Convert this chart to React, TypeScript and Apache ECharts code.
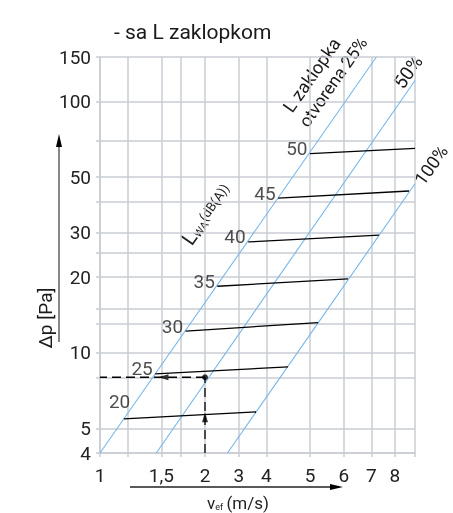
import React, { useEffect, useRef } from "react";
import * as echarts from "echarts";

const xGridValues = [1, 1.2, 1.5, 1.7, 2, 2.5, 3, 4, 5, 6, 7, 8];
const xLabelValues = [1, 1.5, 2, 2.5, 3, 4, 5, 6, 7];
const xLabelTexts = ["1", "1,5", "2", "3", "4", "5", "6", "7", "8"];
const yGridValues = [4, 5, 8, 10, 13, 15, 20, 25, 30, 40, 50, 70, 100, 150];
const yLabelValues = [4, 5, 10, 20, 30, 50, 100, 150];

const damperNames = ["25%", "50%", "100%"];
const damper25 = [[1, 4], [6.2, 150]];
const damper50 = [[1.45, 4], [8, 121]];
const damper100 = [[2.32, 4], [8, 47]];

const soundLevels = [20, 25, 30, 35, 40, 45, 50];
const soundStart = [[1.17, 5.47], [1.44, 8.25], [1.76, 12.2], [2.17, 18.4], [2.66, 27.6], [3.24, 41.2], [4.0, 62]];
const soundEnd = [[2.8, 5.83], [3.46, 8.8], [4.22, 13.2], [5.14, 19.7], [6.31, 29.4], [7.69, 44], [8, 65]];

const examplePoint = [2, 8];
const exampleVertical = [[2, 4], [2, 8]];
const exampleHorizontal = [[2, 8], [1, 8]];
const arrowUp = [2, 5.55];
const arrowLeft = [1.52, 8];

const FONT = "Roboto, 'Liberation Sans', sans-serif";
const TXT = "#222";
const GRID = "#c9ccd3";
const BLUE = "#78b7ea";
const ROT = (55 * Math.PI) / 180;

export default function App() {
  const ref = useRef<HTMLDivElement>(null);
  useEffect(() => {
    const chart = echarts.init(ref.current!, null, { renderer: "svg" });
    const damperData = [damper25, damper50, damper100];
    const series: any[] = [];
    damperData.forEach((d, i) => {
      series.push({
        type: "line", name: damperNames[i], data: d, symbol: "none", silent: true,
        lineStyle: { color: BLUE, width: 1.1 }, z: 3,
      });
    });
    soundLevels.forEach((lv, i) => {
      series.push({
        type: "line", name: "L" + lv, data: [soundStart[i], soundEnd[i]], symbol: "none", silent: true,
        lineStyle: { color: "#000", width: 1.3 }, z: 4,
      });
    });
    series.push({
      type: "scatter", data: soundStart.map((p, i) => ({
        value: p,
        label: i === 0 ? { offset: [9, -17] } : { offset: [0, -5] },
      })),
      symbolSize: 1, itemStyle: { color: "transparent" }, silent: true, z: 5,
      label: {
        show: true, position: "left", distance: 2,
        formatter: (p: any) => String(soundLevels[p.dataIndex]),
        fontSize: 19, color: TXT, fontFamily: FONT,
      },
    });
    series.push({
      type: "line", data: exampleVertical, symbol: "none", silent: true,
      lineStyle: { color: "#000", width: 1.3, type: [9, 5] }, z: 6,
    });
    series.push({
      type: "line", data: exampleHorizontal, symbol: "none", silent: true,
      lineStyle: { color: "#000", width: 1.3, type: [9, 5] }, z: 6,
    });
    series.push({
      type: "scatter", data: [examplePoint], symbol: "circle", symbolSize: 6, silent: true,
      itemStyle: { color: "#000" }, z: 7,
    });
    series.push({
      type: "scatter", silent: true, z: 7, itemStyle: { color: "#000" },
      data: [
        { value: arrowUp, symbol: "triangle", symbolSize: [6, 10], symbolRotate: 0 },
        { value: arrowLeft, symbol: "triangle", symbolSize: [6, 10], symbolRotate: 90 },
      ],
    });

    chart.setOption({
      animation: false,
      textStyle: { fontFamily: FONT },
      title: {
        text: "- sa L zaklopkom", left: 109, top: 16,
        textStyle: { fontSize: 21, fontWeight: "normal", color: "#1a1a1a", fontFamily: FONT },
      },
      grid: { left: 100, top: 57, width: 315, height: 396 },
      xAxis: {
        type: "log", logBase: 10, min: 1, max: 8,
        axisLine: { show: true, lineStyle: { color: GRID, width: 1.5 } },
        axisTick: { show: true, length: 4, customValues: xGridValues, lineStyle: { color: GRID, width: 1.5 } },
        splitLine: { show: true, lineStyle: { color: GRID, width: 1.5 } },
        minorSplitLine: { show: false },
        axisLabel: {
          customValues: xLabelValues, margin: 13, fontSize: 19, color: TXT, fontFamily: FONT,
          formatter: (v: number) => {
            let best = 0;
            xLabelValues.forEach((x, i) => { if (Math.abs(x - v) < Math.abs(xLabelValues[best] - v)) best = i; });
            return xLabelTexts[best];
          },
        },
      },
      yAxis: {
        type: "log", logBase: 10, min: 4, max: 150,
        axisLine: { show: true, lineStyle: { color: GRID, width: 1.5 } },
        axisTick: { show: true, length: 4, customValues: yGridValues, lineStyle: { color: GRID, width: 1.5 } },
        splitLine: { show: true, lineStyle: { color: GRID, width: 1.5 } },
        axisLabel: {
          customValues: yLabelValues, margin: 9, fontSize: 19, color: TXT, fontFamily: FONT,
          formatter: (v: number) => String(Math.round(v)),
        },
      },
      series,
      graphic: [
        { type: "line", shape: { x1: 59, y1: 342, x2: 59, y2: 145 }, style: { stroke: "#888", lineWidth: 2 } },
        { type: "polygon", shape: { points: [[59, 134], [56, 147], [62, 147]] }, style: { fill: "#000" } },
        { type: "line", shape: { x1: 130, y1: 487, x2: 333, y2: 487 }, style: { stroke: "#222", lineWidth: 1.5 } },
        { type: "polygon", shape: { points: [[343, 487], [330, 484], [330, 490]] }, style: { fill: "#000" } },
        {
          type: "text", x: 45, y: 318, rotation: Math.PI / 2,
          style: { text: "Δp [Pa]", fontSize: 19, fontFamily: FONT, fill: "#1a1a1a", align: "center", verticalAlign: "middle" },
        },
        {
          type: "text", x: 238, y: 503,
          style: {
            text: "{a|v}{b|ef} {a|(m/s)}", align: "center", verticalAlign: "middle", fill: TXT,
            rich: {
              a: { fontSize: 17, fontFamily: FONT, fill: TXT },
              b: { fontSize: 9, fontFamily: FONT, fill: TXT, verticalAlign: "bottom", padding: [6, 0, 0, 0] },
            },
          },
        },
        {
          type: "text", x: 287, y: 110, rotation: ROT,
          style: { text: "L zaklopka", fontSize: 18, fontFamily: FONT, fill: "#1a1a1a", align: "left", verticalAlign: "middle" },
        },
        {
          type: "text", x: 303, y: 125, rotation: ROT,
          style: { text: "otvorena 25%", fontSize: 17.5, fontFamily: FONT, fill: "#1a1a1a", align: "left", verticalAlign: "middle" },
        },
        {
          type: "text", x: 408, y: 72, rotation: ROT,
          style: { text: "50%", fontSize: 19, fontFamily: FONT, fill: "#1a1a1a", align: "center", verticalAlign: "middle" },
        },
        {
          type: "text", x: 431, y: 165, rotation: ROT,
          style: { text: "100%", fontSize: 18, fontFamily: FONT, fill: "#1a1a1a", align: "center", verticalAlign: "middle" },
        },
        {
          type: "text", x: 206, y: 214, rotation: ROT,
          style: {
            text: "{a|L}{b|WA}{c|(dB(A))}", align: "center", verticalAlign: "middle",
            rich: {
              a: { fontSize: 21, fontFamily: FONT, fill: TXT, verticalAlign: "middle" },
              b: { fontSize: 11, fontFamily: FONT, fill: TXT, verticalAlign: "bottom" },
              c: { fontSize: 13, fontFamily: FONT, fill: TXT, verticalAlign: "middle" },
            },
          },
        },
      ],
    });
    return () => chart.dispose();
  }, []);
  return <div ref={ref} style={{ position: "fixed", left: 0, top: 0, width: 453, height: 513 }} />;
}
